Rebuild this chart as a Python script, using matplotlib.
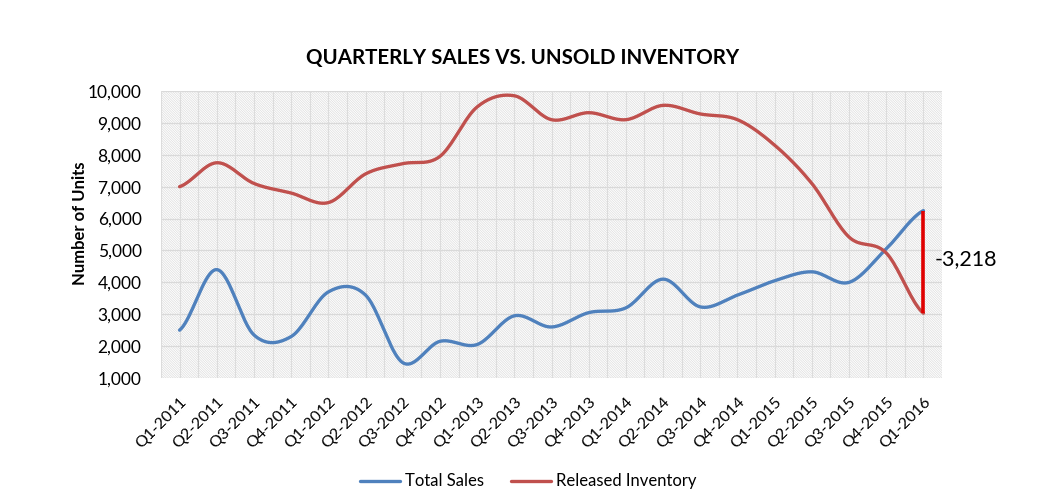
import matplotlib
matplotlib.use("Agg")
import matplotlib.pyplot as plt
import numpy as np
from matplotlib.patches import Rectangle

quarters = [
    "Q1-2011", "Q2-2011", "Q3-2011", "Q4-2011",
    "Q1-2012", "Q2-2012", "Q3-2012", "Q4-2012",
    "Q1-2013", "Q2-2013", "Q3-2013", "Q4-2013",
    "Q1-2014", "Q2-2014", "Q3-2014", "Q4-2014",
    "Q1-2015", "Q2-2015", "Q3-2015", "Q4-2015",
    "Q1-2016",
]
total_sales = [2500, 4400, 2350, 2300, 3700, 3600, 1480, 2150, 2050, 2950,
               2600, 3050, 3200, 4100, 3230, 3600, 4050, 4330, 4000, 5050,
               6250]
released_inventory = [7000, 7750, 7100, 6800, 6500, 7400, 7720, 7950, 9500, 9850,
                      9100, 9320, 9100, 9550, 9280, 9100, 8300, 7100, 5420, 4920,
                      3032]
gap_label = "-3,218"


def smooth(y, steps=20):
    # Excel style smoothed line: Catmull-Rom through the data points
    y = np.asarray(y, dtype=float)
    n = len(y)
    p = np.concatenate([[y[0]], y, [y[-1]]])
    xs, ys = [], []
    for i in range(n - 1):
        p0, p1, p2, p3 = p[i], p[i + 1], p[i + 2], p[i + 3]
        m1 = (p2 - p0) / 2
        m2 = (p3 - p1) / 2
        t = np.linspace(0, 1, steps, endpoint=False)
        h00 = 2 * t**3 - 3 * t**2 + 1
        h10 = t**3 - 2 * t**2 + t
        h01 = -2 * t**3 + 3 * t**2
        h11 = t**3 - t**2
        xs.append(i + t)
        ys.append(h00 * p1 + h10 * m1 + h01 * p2 + h11 * m2)
    xs.append([n - 1])
    ys.append([y[-1]])
    return np.concatenate(xs), np.concatenate(ys)


plt.rcParams["font.family"] = ["Lato", "DejaVu Sans"]
plt.rcParams["hatch.linewidth"] = 0.5

fig = plt.figure(figsize=(10.4, 5.03), dpi=100)
ax = fig.add_axes([0.1548, 0.2485, 0.751, 0.5706])

n = len(quarters)
x = np.arange(n)

# hatched plot area background
ax.add_patch(Rectangle((-0.5, 1000), n, 9000, facecolor="white",
                       edgecolor="#dddddd", hatch="\\" * 14, linewidth=0, zorder=0))
for v in np.arange(1000, 10001, 1000):
    ax.axhline(v, color="#d9d9d9", linewidth=0.9, zorder=1)
for v in np.arange(-0.5, n, 0.5):
    ax.axvline(v, color="#dcdcdc", linewidth=0.8, zorder=1)

sx, sy = smooth(total_sales)
ax.plot(sx, sy, color="#4f81bd", linewidth=2.4, label="Total Sales", zorder=3,
        solid_capstyle="round")
rx, ry = smooth(released_inventory)
ax.plot(rx, ry, color="#c0504d", linewidth=2.4, label="Released Inventory", zorder=3,
        solid_capstyle="round")

# gap marker at the last quarter
ax.vlines(x[-1], released_inventory[-1], total_sales[-1], color="#e00000",
          linewidth=2.6, zorder=4)
ax.text(x[-1] + 0.3, (released_inventory[-1] + total_sales[-1]) / 2 + 100,
        gap_label, fontsize=15.5, va="center", ha="left", clip_on=False)

ax.set_xlim(-0.5, n - 0.5)
ax.set_ylim(1000, 10000)
ax.set_yticks(np.arange(1000, 10001, 1000))
ax.set_yticklabels([f"{v:,}" for v in np.arange(1000, 10001, 1000)], fontsize=12.5)
ax.set_xticks(x)
ax.set_xticklabels(quarters, rotation=45, ha="right", rotation_mode="anchor",
                   fontsize=11.5)
ax.tick_params(axis="y", length=0, pad=14)
ax.tick_params(axis="x", length=0, pad=12)
for s in ax.spines.values():
    s.set_visible(False)

ax.set_ylabel("Number of Units", fontsize=12, fontweight="bold")
ax.yaxis.set_label_coords(-0.093, 0.54)
fig.text(0.502, 0.885, "QUARTERLY SALES VS. UNSOLD INVENTORY", fontsize=14.8,
         fontweight="bold", ha="center", va="center")

fig.legend(loc="center", bbox_to_anchor=(0.508, 0.043), ncol=2, frameon=False,
           fontsize=12, handlelength=2.4, columnspacing=1.6, handletextpad=0.3)

fig.savefig("out.png", dpi=100)
